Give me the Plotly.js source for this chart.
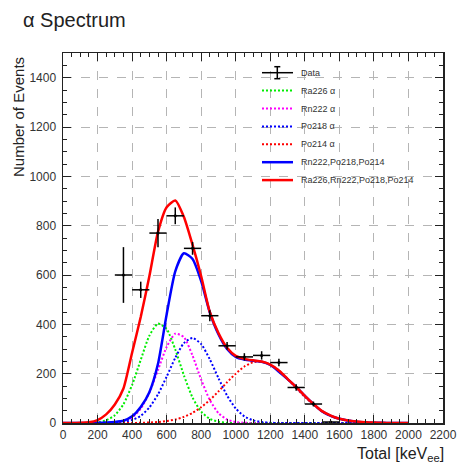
<!DOCTYPE html>
<html>
<head>
<meta charset="utf-8">
<script src="https://cdn.plot.ly/plotly-3.0.1.min.js"></script>
<style>html,body{margin:0;padding:0;background:#fff;}#chart{width:460px;height:468px;}</style>
</head>
<body>
<div id="chart"></div>
<script>
// ---- data ----
const energy = [0,50,100,150,200,250,300,350,400,450,500,550,600,650,700,750,800,850,900,950,
  1000,1050,1100,1150,1200,1250,1300,1350,1400,1450,1500,1550,1600,1650,1700,1750,1800,1850,1900,1950,2000];

const ra226 = [0,0,0,1,3,11,31,76,154,256,354,403,381,298,193,103,46,17,5,1,
  0,0,0,0,0,0,0,0,0,0,0,0,0,0,0,0,0,0,0,0,0];
const rn222 = [0,0,0,0,0,0,2,7,22,58,123,215,308,362,348,273,176,93,40,14,
  4,1,0,0,0,0,0,0,0,0,0,0,0,0,0,0,0,0,0,0,0];
const po218 = [0,0,0,0,0,0,1,4,12,29,63,116,188,264,324,345,320,258,182,111,
  59,27,11,4,1,0,0,0,0,0,0,0,0,0,0,0,0,0,0,0,0];
const po214 = [0,0,0,0,0,0,0,0,0,1,2,4,8,14,25,41,64,93,128,165,
  200,229,246,249,237,213,179,142,106,75,47,29,17,10,5,2,1,0,0,0,0];
const sumRnPo = [0,0,0,0,1,2,4,9,27,65,125,240,440,615,688,665,575,448,360,300,
  268,257,252,248,235,208,178,146,110,77,47,29,17,10,5,3,1,1,0,0,0];
const sumAll = [0,0,1,3,12,35,75,140,285,430,595,775,875,902,835,722,595,450,365,305,
  272,260,254,249,237,213,179,146,110,77,48,30,17,10,6,3,2,1,0,0,0];

const dataX = [350,450,550,650,750,850,950,1050,1150,1250,1350,1450,1550];
const dataY = [600,540,770,840,708,435,313,268,274,245,144,77,4];
const dataErrY = [113,33,57,34,26,22,15,15,17,15,13,10,4];
const dataErrX = 50;

const legendLabels = ['Data','Ra226 \u03b1','Rn222 \u03b1','Po218 \u03b1','Po214 \u03b1','Rn222,Po218,Po214','Ra226,Rn222,Po218,Po214'];
const xTitle = 'Total [keV<sub>ee</sub>]';
const yTitle = 'Number of Events';
const chartTitle = '\u03b1 Spectrum';

// ---- layout helpers ----
const W = 460, H = 468, ML = 63, MR = 17, MT = 53, MB = 45;
const PW = W - ML - MR, PH = H - MT - MB;
const px = x => (x - ML) / PW;
const py = y => (H - MB - y) / PH;

const FONT = 'Liberation Sans, Arial, Helvetica, sans-serif';
const dotW = 2, solidW = 2.5;

function curve(y, color, dash, width) {
  return {x: energy, y: y, type: 'scatter', mode: 'lines', hoverinfo: 'skip',
    line: {color: color, dash: dash, width: width, shape: 'spline', smoothing: 0.6}, showlegend: false};
}

const traces = [
  curve(ra226, '#00ee00', '2px,2px', dotW),
  curve(rn222, '#ff00ff', '2px,2px', dotW),
  curve(po218, '#0000ff', '2px,2px', dotW),
  curve(po214, '#ff0000', '2px,2px', dotW),
  curve(sumRnPo, '#0000ff', 'solid', solidW),
  curve(sumAll, '#ff0000', 'solid', solidW),
  {x: dataX, y: dataY, type: 'scatter', mode: 'markers', showlegend: false,
   marker: {color: '#000', size: 3},
   error_x: {type: 'constant', value: dataErrX, width: 0, color: '#000', thickness: 1.5},
   error_y: {type: 'data', array: dataErrY, width: 0, color: '#000', thickness: 1.5}}
];

// manual ROOT-like legend
const legColors = ['#000','#00ee00','#ff00ff','#0000ff','#ff0000','#0000ff','#ff0000'];
const legDash = ['solid','2px,2px','2px,2px','2px,2px','2px,2px','solid','solid'];
const legW = [1.5, dotW, dotW, dotW, dotW, solidW, solidW];
const shapes = [];
const annotations = [];
const lx0 = 262, lx1 = 293, ltx = 299, ly0 = 72.7, ldy = 17.9;
legendLabels.forEach((lab, i) => {
  const yy = ly0 + i * ldy;
  shapes.push({type: 'line', xref: 'paper', yref: 'paper', x0: px(lx0), x1: px(lx1), y0: py(yy), y1: py(yy),
    line: {color: legColors[i], width: legW[i], dash: legDash[i]}});
  annotations.push({xref: 'paper', yref: 'paper', x: px(ltx), y: py(yy), xanchor: 'left', yanchor: 'middle',
    text: lab, showarrow: false, font: {family: FONT, size: 9, color: '#333'}});
});
// error-bar glyph of the Data entry
const cx = 277.3, cy = ly0;
shapes.push({type: 'line', xref: 'paper', yref: 'paper', x0: px(cx), x1: px(cx), y0: py(cy - 6), y1: py(cy + 6), line: {color: '#000', width: 1.5}});
shapes.push({type: 'line', xref: 'paper', yref: 'paper', x0: px(cx - 3), x1: px(cx + 3), y0: py(cy - 6), y1: py(cy - 6), line: {color: '#000', width: 1.5}});
shapes.push({type: 'line', xref: 'paper', yref: 'paper', x0: px(cx - 3), x1: px(cx + 3), y0: py(cy + 6), y1: py(cy + 6), line: {color: '#000', width: 1.5}});

// axis titles (ROOT style: right/top aligned)
annotations.push({xref: 'paper', yref: 'paper', x: 1, y: py(454), xanchor: 'right', yanchor: 'middle', xshift: 3,
  text: xTitle, showarrow: false, font: {family: FONT, size: 16, color: '#222'}});
annotations.push({xref: 'paper', yref: 'paper', x: px(19), y: py(55), xanchor: 'center', yanchor: 'top', textangle: -90,
  text: yTitle, showarrow: false, font: {family: FONT, size: 15, color: '#222'}});

const axisCommon = {
  ticks: 'inside', ticklen: 8, tickwidth: 1, tickcolor: '#222',
  mirror: 'allticks', showline: true, linecolor: '#222', linewidth: 1.5,
  showgrid: true, gridcolor: '#b5b5b5', griddash: 'dash', gridwidth: 1,
  zeroline: false, tickfont: {family: FONT, size: 12, color: '#333'},
  minor: {ticks: 'inside', ticklen: 4, tickcolor: '#222', tickwidth: 1, showgrid: false}
};

const layout = {
  width: W, height: H,
  margin: {l: ML, r: MR, t: MT, b: MB},
  paper_bgcolor: '#fff', plot_bgcolor: '#fff',
  font: {family: FONT},
  title: {text: chartTitle, font: {family: FONT, size: 20, color: '#222'},
    xref: 'container', yref: 'container', x: 23 / W, xanchor: 'left', y: 1 - 20 / H, yanchor: 'middle'},
  xaxis: Object.assign({}, axisCommon, {range: [0, 2200], tick0: 0, dtick: 200,
    minor: Object.assign({}, axisCommon.minor, {dtick: 50})}),
  yaxis: Object.assign({}, axisCommon, {range: [0, 1500], tick0: 0, dtick: 200, ticklabelstandoff: 3,
    minor: Object.assign({}, axisCommon.minor, {dtick: 50})}),
  showlegend: false,
  shapes: shapes,
  annotations: annotations
};

Plotly.newPlot('chart', traces, layout, {displayModeBar: false, staticPlot: true});
</script>
</body>
</html>
